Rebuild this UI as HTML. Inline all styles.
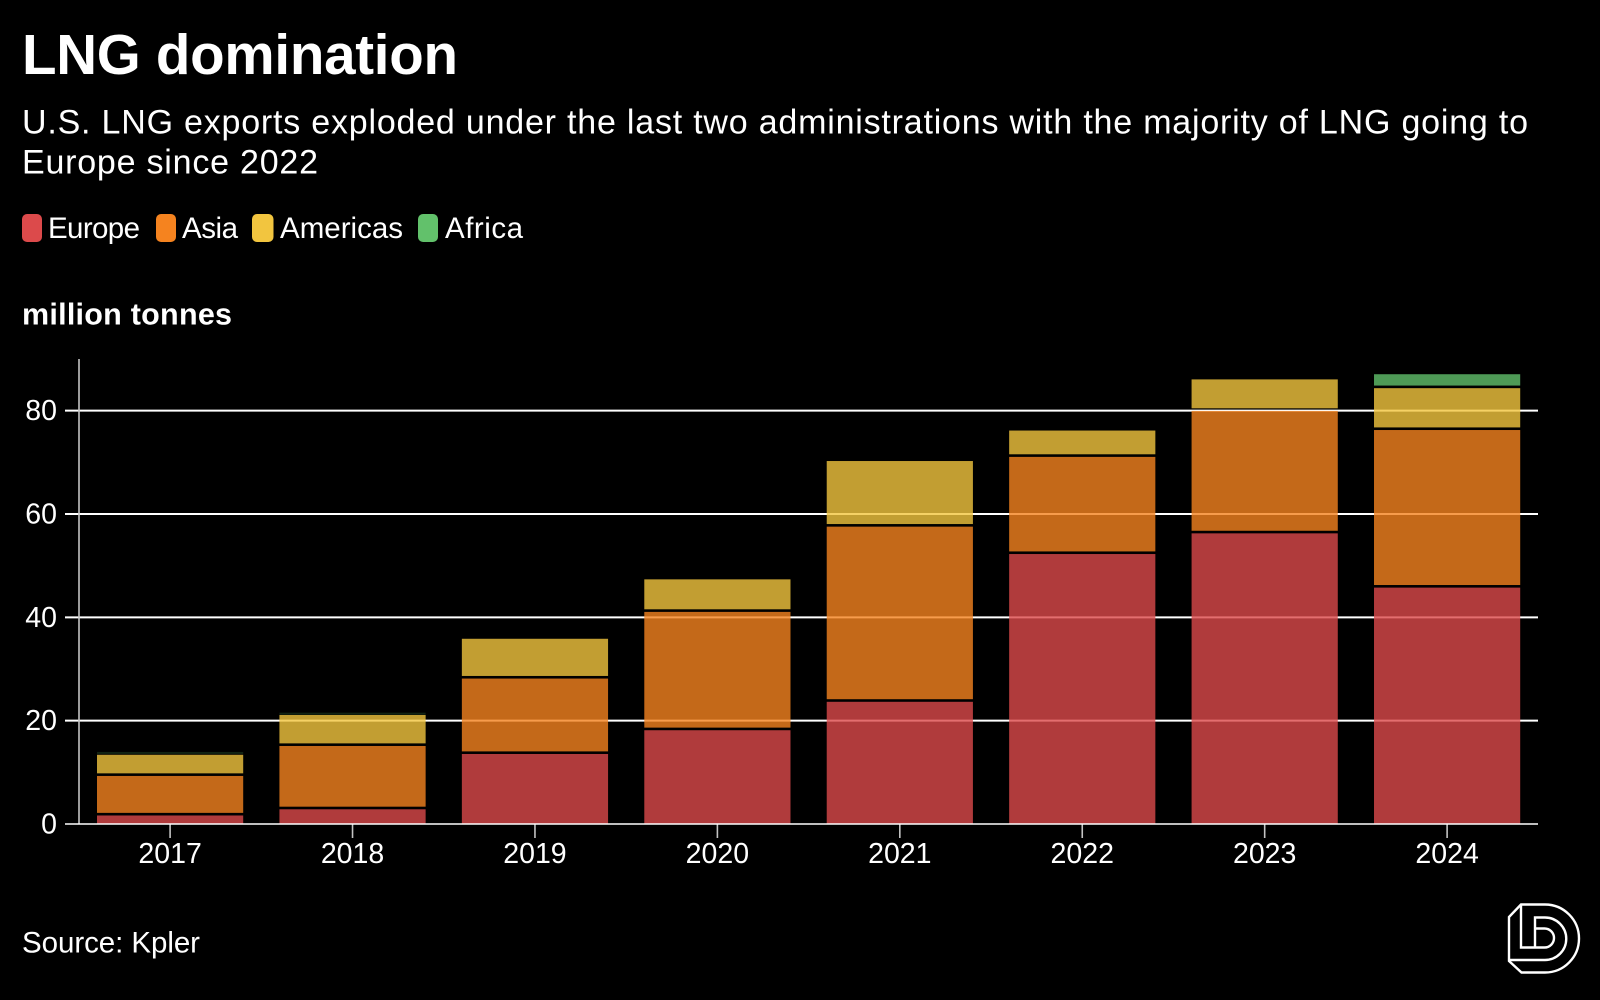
<!DOCTYPE html>
<html lang="en">
<head>
<meta charset="utf-8">
<title>LNG domination</title>
<style>
  html, body { margin: 0; padding: 0; background: #000; }
  svg { display: block; }
  text { font-family: "Liberation Sans", sans-serif; fill: #fff; }
</style>
</head>
<body>
<svg id="chart" xmlns="http://www.w3.org/2000/svg" width="1600" height="1000" viewBox="0 0 1600 1000">
  <rect x="0" y="0" width="1600" height="1000" fill="#000"/>
  <text x="22" y="74" font-size="56.5" font-weight="700" textLength="436">LNG domination</text>
  <text x="22" y="133.5" font-size="34" textLength="1506">U.S. LNG exports exploded under the last two administrations with the majority of LNG going to</text>
  <text x="22" y="173.5" font-size="34" textLength="296">Europe since 2022</text>
  <g id="legend"></g>
  <text x="22" y="324.5" font-size="30.5" font-weight="700" textLength="210">million tonnes</text>
  <g id="grid"></g>
  <g id="axes"></g>
  <g id="bars"></g>
  <g id="baseline"></g>
  <g id="labels"></g>
  <text x="22" y="952.5" font-size="29.5" textLength="178">Source: Kpler</text>
  <g fill="none" stroke="#fff" stroke-width="2.4" stroke-linejoin="miter">
    <path d="M1521,904.5 H1545 A34 34 0 0 1 1545,972.5 H1521.5 L1509,961 V917 Z"/>
    <path d="M1521,904.5 V947.5 H1544.5 A9.5 9.5 0 0 0 1544.5,928.5 H1535"/>
    <path d="M1535,947.5 V917.5 H1545 A21.25 21.25 0 0 1 1545,960 H1509"/>
  </g>
</svg>
<script>
const years = ['2017', '2018', '2019', '2020', '2021', '2022', '2023', '2024'];
const europe = [1.9, 3.1, 13.8, 18.4, 23.9, 52.5, 56.5, 46.0];
const asia = [7.65, 12.25, 14.6, 22.9, 33.9, 18.8, 23.7, 30.5];
const americas = [4.1, 6.0, 7.7, 6.3, 12.7, 5.1, 6.1, 8.1];
const africa = [0.55, 0.45, 0, 0, 0, 0, 0, 2.7];
const seriesNames = ['Europe', 'Asia', 'Americas', 'Africa'];
const seriesColors = ['#dc4a4b', '#f5831f', '#f2c53f', '#62c16b'];
const yTicks = [0, 20, 40, 60, 80];

const NS = 'http://www.w3.org/2000/svg';
const series = [europe, asia, americas, africa];

function yScale(v) { return 824 - v * 5.167; }
function xBand(i) { return 97 + i * 182.43; }
const bandWidth = 146.2;
const segmentGap = 2.6;

function make(parent, tag, attrs, text) {
  const el = document.createElementNS(NS, tag);
  for (const k in attrs) el.setAttribute(k, attrs[k]);
  if (text !== undefined) el.textContent = text;
  parent.appendChild(el);
  return el;
}

const gridG = document.getElementById('grid');
const axesG = document.getElementById('axes');
const barsG = document.getElementById('bars');
const baselineG = document.getElementById('baseline');
const labelsG = document.getElementById('labels');
const legendG = document.getElementById('legend');

yTicks.forEach(function (t) {
  if (t === 0) {
    const zero = make(baselineG, 'line', {
      x1: 65, x2: 1538, y1: yScale(t), y2: yScale(t),
      stroke: '#fff', 'stroke-opacity': 0.75, 'stroke-width': 2
    });
    
    
  } else {
    const line = make(gridG, 'line', {
      x1: 65, x2: 1538, y1: yScale(t), y2: yScale(t),
      stroke: '#fff', 'stroke-width': 2
    });
    
    
  }
  const label = make(labelsG, 'text', {
    x: 57, y: yScale(t) + 9.5, 'font-size': 28.5, 'text-anchor': 'end'
  }, String(t));
  
  
});

const yAxis = make(axesG, 'line', {
  x1: 79, x2: 79, y1: yScale(90), y2: yScale(0), stroke: '#c4c4c4', 'stroke-width': 1.6
});



years.forEach(function (year, i) {
  const cx = xBand(i) + bandWidth / 2;
  const tick = make(axesG, 'line', {
    x1: cx, x2: cx, y1: yScale(0), y2: yScale(0) + 14, stroke: '#c4c4c4', 'stroke-width': 1.6
  });
  
  
  const label = make(labelsG, 'text', {
    x: cx, y: 863, 'font-size': 28.5, 'text-anchor': 'middle'
  }, year);
  
  

  let base = 0;
  series.forEach(function (values, s) {
    const v = values[i];
    if (v <= 0) return;
    const top = base + v;
    const segTop = yScale(top) + segmentGap / 2;
    const segBottom = base === 0 ? yScale(0) : yScale(base) - segmentGap / 2;
    const raw = segBottom - segTop;
    const rect = make(barsG, 'rect', {
      x: xBand(i), y: segTop, width: bandWidth, height: Math.max(raw, 2),
      fill: seriesColors[s], opacity: raw < 2 ? 0.18 : 0.8
    });
    
    
    base = top;
  });
});

const legendSwatchX = [22, 156, 252, 418];
const legendTextX = [48, 182, 280, 445];
const legendTextW = [92, 56, 123, 78];
seriesNames.forEach(function (name, i) {
  const sw = make(legendG, 'rect', {
    x: legendSwatchX[i], y: 214, width: i === 2 ? 21.5 : 20, height: 28, rx: 5, fill: seriesColors[i]
  });
  
  
  const tx = make(legendG, 'text', {
    x: legendTextX[i], y: 238, 'font-size': 29.5, textLength: legendTextW[i]
  }, name);
  
  
});
</script>
</body>
</html>
